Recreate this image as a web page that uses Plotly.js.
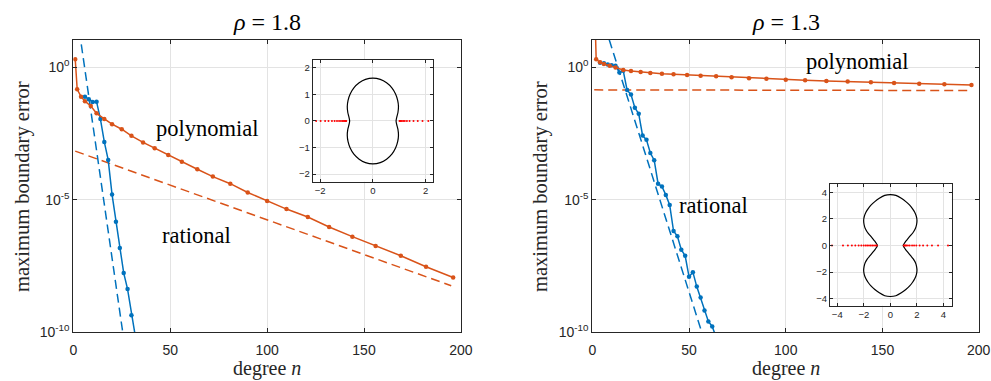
<!DOCTYPE html>
<html><head><meta charset="utf-8">
<script src="https://cdn.plot.ly/plotly-3.0.1.min.js"></script>
<style>html,body{margin:0;padding:0;background:#fff;overflow:hidden;} #chart{width:1010px;height:381px;}</style>
</head><body><div id="chart"></div>
<script>
// ---------- data: rho = 1.8 (left panel) ----------
const polyN_A = [1,2,4,6,9,12,16,20,25,30,36,42,49,56,64,72,81,90,100,110,121,132,144,156,169,182,196];
const polyErr_A = [2.0,0.148,0.0776,0.0525,0.0347,0.0182,0.0112,7.08e-3,4.57e-3,2.57e-3,1.45e-3,8.7e-4,4.9e-4,2.7e-4,1.41e-4,7.4e-5,4.0e-5,1.86e-5,8.9e-6,4.4e-6,2.2e-6,9.3e-7,4.0e-7,1.78e-7,7.6e-8,2.9e-8,1.15e-8];
const ratN_A = [6,8,10,12,14,16,18,20,22,24,26,28,30,32];
const ratErr_A = [0.0776,0.0617,0.049,0.050,0.011,1.51e-3,3.16e-4,1.55e-5,1.45e-6,1.48e-7,1.7e-8,4.2e-9,4.3e-10,6.9e-11];
const polyRateN_A = [1,195];
const polyRate_A = [6.8e-4,5.6e-9];
const ratRateN_A = [0,27];
const ratRate_A = [9.1e2,1.7e-11];

// ---------- data: rho = 1.3 (right panel) ----------
const polyN_B = [1,2,4,6,9,12,16,20,25,30,36,42,49,56,64,72,81,90,100,110,121,132,144,156,169,182,196];
const polyErr_B = [1e3,2.0,1.55,1.33,1.15,0.98,0.79,0.72,0.66,0.61,0.575,0.543,0.513,0.479,0.457,0.417,0.385,0.372,0.339,0.324,0.302,0.288,0.269,0.257,0.240,0.229,0.214];
const ratN_B = [4,6,8,10,12,14,16,18,20,22,24,26,28,30,32,34,36,38,40,42,44,46,48,50,52,54,56,58,60,62,64];
const ratErr_B = [1.48,1.41,1.26,1.19,1.15,0.63,0.74,0.138,0.093,0.0295,0.0174,2.63e-3,1.82e-3,5.75e-4,3.1e-4,4.0e-5,3.16e-5,1.51e-5,6.3e-6,6.5e-7,4.1e-7,1.29e-7,7.6e-8,1.23e-8,1.82e-8,5.2e-9,2.0e-9,6.5e-10,2.5e-10,1.62e-10,6.3e-11];
const polyRateN_B = [1,196];
const polyRate_B = [0.14,0.132];
const ratRateN_B = [0,60];
const ratRate_B = [1.15e3,1.6e-11];

// ---------- inset data ----------
const shapeA_x = [0,0.28,0.52,0.72,0.86,0.94,0.97,0.95,0.90,0.88,0.90,0.95,0.97,0.94,0.86,0.72,0.52,0.28,0,-0.28,-0.52,-0.72,-0.86,-0.94,-0.97,-0.95,-0.90,-0.88,-0.90,-0.95,-0.97,-0.94,-0.86,-0.72,-0.52,-0.28,0];
const shapeA_y = [1.62,1.57,1.44,1.25,1.02,0.78,0.55,0.32,0.12,0,-0.12,-0.32,-0.55,-0.78,-1.02,-1.25,-1.44,-1.57,-1.62,-1.57,-1.44,-1.25,-1.02,-0.78,-0.55,-0.32,-0.12,0,0.12,0.32,0.55,0.78,1.02,1.25,1.44,1.57,1.62];
const polesA_x = [-2.15,-1.98,-1.81,-1.68,-1.55,-1.45,-1.36,-1.28,-1.21,-1.15,-1.10,-1.06,-1.03,-1.01,1.01,1.03,1.06,1.10,1.15,1.21,1.29,1.39,1.54,1.70,1.88,2.10];

const shapeB_x = [0,0.42,0.83,1.17,1.46,1.68,1.84,1.96,2.01,1.98,1.89,1.73,1.53,1.33,1.17,1.05,0.97,1.05,1.17,1.33,1.53,1.73,1.89,1.98,2.01,1.96,1.84,1.68,1.46,1.17,0.83,0.42,0,-0.42,-0.83,-1.17,-1.46,-1.68,-1.84,-1.96,-2.01,-1.98,-1.89,-1.73,-1.53,-1.33,-1.17,-1.05,-0.97,-1.05,-1.17,-1.33,-1.53,-1.73,-1.89,-1.98,-2.01,-1.96,-1.84,-1.68,-1.46,-1.17,-0.83,-0.42,0];
const shapeB_y = [3.83,3.77,3.55,3.30,3.03,2.76,2.50,2.20,1.90,1.58,1.28,1.00,0.76,0.52,0.33,0.15,0,-0.15,-0.33,-0.52,-0.76,-1.00,-1.28,-1.58,-1.90,-2.20,-2.50,-2.76,-3.03,-3.30,-3.55,-3.77,-3.83,-3.77,-3.55,-3.30,-3.03,-2.76,-2.50,-2.20,-1.90,-1.58,-1.28,-1.00,-0.76,-0.52,-0.33,-0.15,0,0.15,0.33,0.52,0.76,1.00,1.28,1.58,1.90,2.20,2.50,2.76,3.03,3.30,3.55,3.77,3.83];
const polesB_x = [-4.4,-3.57,-3.2,-2.9,-2.64,-2.39,-2.19,-2.01,-1.86,-1.74,-1.61,-1.48,-1.36,-1.23,-1.11,-1.02,1.02,1.08,1.14,1.21,1.33,1.46,1.64,1.79,1.96,2.21,2.47,2.79,3.14,3.6,4.35];

const xTicks = [0,50,100,150,200];
const xTickTextRight = ['0','50','100','150',''];   // last label of right panel placed as annotation below
const yTickVals = [1e-10,1e-5,1];
const yTickText = ['10<sup>-10</sup>','10<sup>-5</sup>','10<sup>0</sup>'];

// ---------- styling & layout ----------
const W = 1010, H = 381;   // drawn slightly wider than the 991px window
const X = px => px / W;
const Y = py => 1 - py / H;
const ORANGE = '#D95319', BLUE = '#0072BD', AX = '#262626', GRID = '#e3e3e3';
const SANS = '"Liberation Sans", Arial, sans-serif';
const SERIF = '"Liberation Serif", "DejaVu Serif", serif';

function solid(x, y, c, xa, ya) {
  return {x, y, xaxis: xa, yaxis: ya, type: 'scatter', mode: 'lines+markers',
    line: {color: c, width: 1.5}, marker: {color: c, size: 4.5}, hoverinfo: 'skip'};
}
function dashed(x, y, c, xa, ya) {
  return {x, y, xaxis: xa, yaxis: ya, type: 'scatter', mode: 'lines',
    line: {color: c, width: 1.5, dash: '9px,5px'}, hoverinfo: 'skip'};
}

const traces = [
  dashed(polyRateN_A, polyRate_A, ORANGE, 'x', 'y'),
  dashed(ratRateN_A, ratRate_A, BLUE, 'x', 'y'),
  solid(ratN_A, ratErr_A, BLUE, 'x', 'y'),
  solid(polyN_A, polyErr_A, ORANGE, 'x', 'y'),
  dashed(polyRateN_B, polyRate_B, ORANGE, 'x2', 'y2'),
  dashed(ratRateN_B, ratRate_B, BLUE, 'x2', 'y2'),
  solid(ratN_B, ratErr_B, BLUE, 'x2', 'y2'),
  solid(polyN_B, polyErr_B, ORANGE, 'x2', 'y2'),
  {x: shapeA_x, y: shapeA_y, xaxis: 'x3', yaxis: 'y3', type: 'scatter', mode: 'lines',
   line: {color: '#000', width: 1.2, shape: 'spline', smoothing: 1}, hoverinfo: 'skip'},
  {x: polesA_x, y: polesA_x.map(() => 0), xaxis: 'x3', yaxis: 'y3', type: 'scatter', mode: 'markers',
   marker: {color: '#ff0000', size: 2}, hoverinfo: 'skip'},
  {x: shapeB_x, y: shapeB_y, xaxis: 'x4', yaxis: 'y4', type: 'scatter', mode: 'lines',
   line: {color: '#000', width: 1.2, shape: 'spline', smoothing: 0.8}, hoverinfo: 'skip'},
  {x: polesB_x, y: polesB_x.map(() => 0), xaxis: 'x4', yaxis: 'y4', type: 'scatter', mode: 'markers',
   marker: {color: '#ff0000', size: 2}, hoverinfo: 'skip'}
];

function mainX(dom, anchor, ttext) {
  const ax = {domain: dom, anchor, range: [0, 200.05], tickvals: xTicks, ticks: 'inside', ticklen: 4,
    tickcolor: AX, showline: true, linecolor: AX, linewidth: 1, mirror: 'ticks', showgrid: true,
    gridcolor: GRID, zeroline: false, tickfont: {family: SANS, size: 14, color: AX},
    ticklabelstandoff: 5, ticklabeloverflow: 'allow', fixedrange: true};
  if (ttext) ax.ticktext = ttext;
  return ax;
}
function mainY(dom, anchor) {
  return {domain: dom, anchor, type: 'log', range: [-10, 1.03], tickvals: yTickVals, ticktext: yTickText,
    ticks: 'inside', ticklen: 4, tickcolor: AX, showline: true, linecolor: AX, linewidth: 1, mirror: 'ticks',
    showgrid: true, gridcolor: GRID, zeroline: false, tickfont: {family: SANS, size: 14, color: AX},
    ticklabeloverflow: 'allow', fixedrange: true};
}
function insetAx(dom, anchor, rng, tv) {
  return {domain: dom, anchor, range: rng, tickvals: tv, ticks: 'inside', ticklen: 3, tickcolor: AX,
    showline: true, linecolor: AX, linewidth: 1, mirror: 'ticks', showgrid: true, gridcolor: GRID,
    zeroline: false, tickfont: {family: SANS, size: 9.5, color: AX}, fixedrange: true};
}

const yDom = [Y(332), Y(40)];
const paperAnn = [
  {text: '<i>ρ</i> = 1.8', x: X(267), y: Y(22), font: {family: SERIF, size: 24, color: '#000'}},
  {text: '<i>ρ</i> = 1.3', x: X(786), y: Y(22), font: {family: SERIF, size: 24, color: '#000'}},
  {text: 'degree <i>n</i>', x: X(267), y: Y(368), font: {family: SERIF, size: 20, color: AX}},
  {text: 'degree <i>n</i>', x: X(786), y: Y(368), font: {family: SERIF, size: 20, color: AX}},
  {text: 'maximum boundary error', x: X(22), y: Y(187), textangle: -90, font: {family: SERIF, size: 20.5, color: AX}},
  {text: 'maximum boundary error', x: X(540), y: Y(187), textangle: -90, font: {family: SERIF, size: 20.5, color: AX}},
  {text: 'polynomial', x: X(207), y: Y(128), font: {family: SERIF, size: 22.5, color: '#000'}},
  {text: 'rational', x: X(196), y: Y(235), font: {family: SERIF, size: 22.5, color: '#000'}},
  {text: 'polynomial', x: X(857), y: Y(62), font: {family: SERIF, size: 22.5, color: '#000'}},
  {text: 'rational', x: X(713), y: Y(205), font: {family: SERIF, size: 22.5, color: '#000'}}
].map(a => Object.assign({xref: 'paper', yref: 'paper', xanchor: 'center', yanchor: 'middle', showarrow: false}, a));
// last x tick label of the right panel, placed at the data value 200 on its axis
paperAnn.push({text: String(xTicks[4]), xref: 'x2', x: xTicks[4], yref: 'paper', y: Y(349.5),
  xanchor: 'center', yanchor: 'middle', showarrow: false, font: {family: SANS, size: 14, color: AX}});

const layout = {
  width: W, height: H, margin: {l: 0, r: 0, t: 0, b: 0}, showlegend: false,
  paper_bgcolor: '#fff', plot_bgcolor: '#fff', hovermode: false,
  font: {family: SERIF},
  xaxis: mainX([X(73.3), X(461)], 'y'),
  yaxis: mainY(yDom, 'x'),
  xaxis2: mainX([X(592.3), X(979.3)], 'y2', xTickTextRight),
  yaxis2: mainY(yDom, 'x2'),
  xaxis3: insetAx([X(312.7), X(433.3)], 'y3', [-2.28, 2.29], [-2, 0, 2]),
  yaxis3: insetAx([Y(181.7), Y(60)], 'x3', [-2.29, 2.3], [-2, -1, 0, 1, 2]),
  xaxis4: insetAx([X(830), X(951.7)], 'y4', [-4.55, 4.63], [-4, -2, 0, 2, 4]),
  yaxis4: insetAx([Y(305.7), Y(184.3)], 'x4', [-4.52, 4.6], [-4, -2, 0, 2, 4]),
  annotations: paperAnn
};

Plotly.newPlot('chart', traces, layout, {staticPlot: true, displayModeBar: false});
</script></body></html>
